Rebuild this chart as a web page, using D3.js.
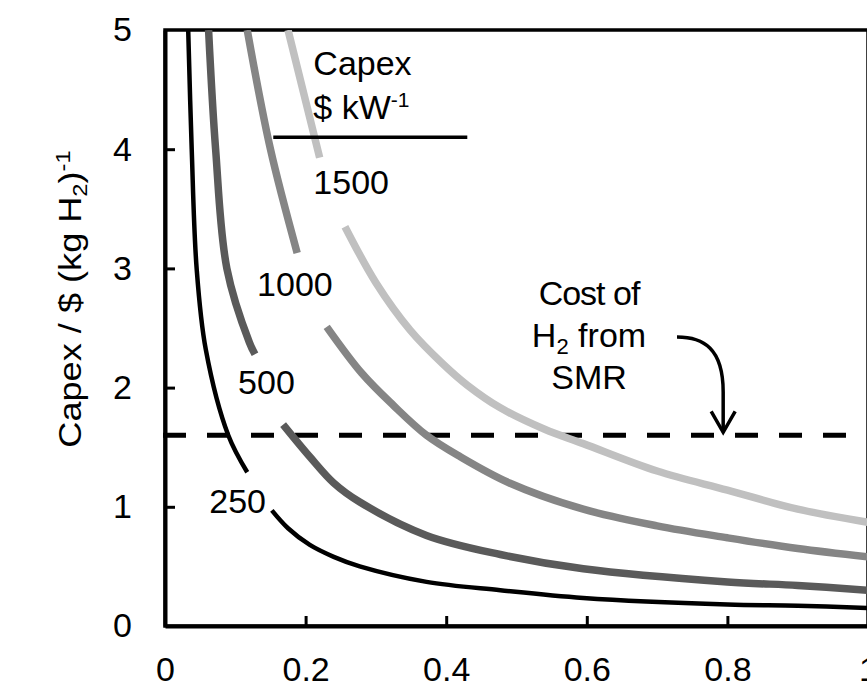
<!DOCTYPE html>
<html>
<head>
<meta charset="utf-8">
<script src="https://cdn.jsdelivr.net/npm/d3@7"></script>
<style>
  body { margin: 0; background: #fff; }
  text { font-family: "Liberation Sans", Arial, sans-serif; fill: #000; }
</style>
</head>
<body>
<div id="chart"></div>
<script>
  // capacity factor (x) vs capex per kg H2 (y), one series per electrolyser capex
  // null splits the line where the label sits
  var cf250   = [0.033, 0.038, 0.045, 0.058, 0.09, 0.117, null, 0.152, 0.175, 0.206, 0.24, 0.277, 0.372, 0.477, 0.595, 0.8, 0.9, 1.0];
  var cost250 = [5, 4, 3, 2.32, 1.6, 1.29, null, 0.97, 0.82, 0.68, 0.58, 0.50, 0.37, 0.30, 0.235, 0.18, 0.17, 0.15];

  var cf500   = [0.062, 0.072, 0.088, 0.12, 0.128, null, 0.168, 0.206, 0.24, 0.277, 0.372, 0.477, 0.595, 0.8, 0.9, 1.0];
  var cost500 = [5, 4, 3, 2.38, 2.28, null, 1.69, 1.42, 1.2, 1.04, 0.76, 0.60, 0.48, 0.37, 0.34, 0.30];

  var cf1000   = [0.117, 0.15, 0.188, null, 0.23, 0.28, 0.325, 0.372, 0.42, 0.49, 0.595, 0.7, 0.8, 0.9, 1.0];
  var cost1000 = [5, 4, 3.13, null, 2.51, 2.12, 1.85, 1.6, 1.42, 1.2, 0.98, 0.84, 0.74, 0.65, 0.58];

  var cf1500   = [0.175, 0.22, null, 0.256, 0.3, 0.349, 0.395, 0.43, 0.477, 0.54, 0.595, 0.7, 0.8, 0.9, 1.0];
  var cost1500 = [5, 3.93, null, 3.35, 2.88, 2.48, 2.2, 2.02, 1.83, 1.65, 1.53, 1.30, 1.14, 0.98, 0.87];

  var capexLevels = ['250', '500', '1000', '1500'];
  var seriesColors = ['#000000', '#5a5a5a', '#858585', '#c0c0c0'];
  var seriesWidths = [4.5, 7.5, 7.5, 7.5];
  // where each capex label goes (data units)
  var labelCf   = [0.063, 0.104, 0.131, 0.211];
  var labelCost = [0.95, 1.95, 2.77, 3.62];

  var smrCost = 1.6;
  var xTicks = [0, 0.2, 0.4, 0.6, 0.8, 1];
  var yTicks = [0, 1, 2, 3, 4, 5];

  var w = 867, h = 700;
  var x = d3.scaleLinear().domain([0, 1]).range([165, 868]);
  var y = d3.scaleLinear().domain([0, 5]).range([626, 30]);

  var svg = d3.select('#chart').append('svg')
    .attr('width', w)
    .attr('height', h);

  ////////////////////////
  // Frame + axes
  ////////////////////////
  svg.append('rect')
    .attr('x', x(0)).attr('y', y(5))
    .attr('width', x(1) - x(0)).attr('height', y(0) - y(5))
    .attr('fill', 'none')
    .attr('stroke', '#000')
    .attr('stroke-width', 3.5);

  var yAxis = svg.append('g')
    .attr('transform', 'translate(' + x(0) + ',0)')
    .call(d3.axisLeft(y).tickValues(yTicks).tickFormat(d3.format('d'))
      .tickSizeInner(-10).tickSizeOuter(0).tickPadding(33));

  var xAxis = svg.append('g')
    .attr('transform', 'translate(0,' + y(0) + ')')
    .call(d3.axisBottom(x).tickValues(xTicks).tickFormat(function(d) { return d === 0 || d === 1 ? d : d3.format('.1f')(d); })
      .tickSizeInner(-10).tickSizeOuter(0).tickPadding(31));

  [xAxis, yAxis].forEach(function(g) {
    g.select('.domain').attr('stroke', '#000').attr('stroke-width', 4);
    g.selectAll('.tick line').attr('stroke', '#000').attr('stroke-width', 3);
    g.selectAll('.tick text')
      .style('font-family', '"Liberation Sans", Arial, sans-serif')
      .style('font-size', '34px')
      .attr('fill', '#000');
  });
  xAxis.selectAll('.tick').filter(function(d) { return d === 0 || d === 1; }).select('line').remove();
  yAxis.selectAll('.tick').filter(function(d) { return d === 0 || d === 5; }).select('line').remove();

  // y title (the original is a little wider than plain Arial)
  var yTitle = svg.append('text')
    .attr('transform', 'translate(81,' + 299 + ') rotate(-90) scale(1.13,1)')
    .attr('text-anchor', 'middle')
    .style('font-size', '32px');
  yTitle.append('tspan').text('Capex / $ (kg H');
  yTitle.append('tspan').text('2').attr('baseline-shift', '-25%').style('font-size', '21px');
  yTitle.append('tspan').text(')');
  yTitle.append('tspan').text('-1').attr('baseline-shift', '55%').style('font-size', '21px');

  ////////////////////////
  // SMR reference line
  ////////////////////////
  svg.append('line')
    .attr('x1', x(0) - 2).attr('x2', x(1))
    .attr('y1', y(smrCost)).attr('y2', y(smrCost))
    .attr('stroke', '#000')
    .attr('stroke-width', 5)
    .attr('stroke-dasharray', '23,21');

  ////////////////////////
  // Capex curves
  ////////////////////////
  var cfs = [cf250, cf500, cf1000, cf1500];
  var costs = [cost250, cost500, cost1000, cost1500];

  var line = d3.line()
    .defined(function(d) { return d[0] !== null && d[1] !== null; })
    .x(function(d) { return x(d[0]); })
    .y(function(d) { return y(d[1]); })
    .curve(d3.curveCatmullRom.alpha(0.5));

  svg.append('clipPath').attr('id', 'plot-clip')
    .append('rect')
    .attr('x', x(0)).attr('y', y(5))
    .attr('width', x(1) - x(0)).attr('height', y(0) - y(5));

  var curveGroup = svg.append('g')
    .attr('class', 'curve-group')
    .attr('clip-path', 'url(#plot-clip)');

  curveGroup.selectAll('path')
    .data(capexLevels)
    .enter().append('path')
    .attr('d', function(d, i) { return line(d3.zip(cfs[i], costs[i])); })
    .attr('fill', 'none')
    .attr('stroke', function(d, i) { return seriesColors[i]; })
    .attr('stroke-width', function(d, i) { return seriesWidths[i]; });

  svg.selectAll('.capex-label')
    .data(capexLevels)
    .enter().append('text')
    .attr('class', 'capex-label')
    .attr('x', function(d, i) { return x(labelCf[i]); })
    .attr('y', function(d, i) { return y(labelCost[i]); })
    .style('font-size', '34px')
    .text(function(d) { return d; });

  ////////////////////////
  // Legend header
  ////////////////////////
  svg.append('text')
    .attr('x', x(0.211)).attr('y', 75)
    .style('font-size', '34px')
    .text('Capex');
  var unit = svg.append('text')
    .attr('x', x(0.211)).attr('y', 119)
    .style('font-size', '34px');
  unit.append('tspan').text('$ kW');
  unit.append('tspan').text('-1').attr('baseline-shift', '55%').style('font-size', '21px');

  svg.append('line')
    .attr('x1', x(0.154)).attr('x2', x(0.43))
    .attr('y1', y(4.1)).attr('y2', y(4.1))
    .attr('stroke', '#000')
    .attr('stroke-width', 3.5);

  ////////////////////////
  // SMR annotation
  ////////////////////////
  var note = svg.append('g').attr('text-anchor', 'middle').style('font-size', '34px');
  note.append('text').attr('x', 589).attr('y', 305).style('letter-spacing', '-1px').text('Cost of');
  var h2 = note.append('text').attr('x', 589).attr('y', 347);
  h2.append('tspan').text('H');
  h2.append('tspan').text('2').attr('baseline-shift', '-30%').style('font-size', '22px');
  h2.append('tspan').text(' from');
  note.append('text').attr('x', 589).attr('y', 389).text('SMR');

  var ax = x(0.794), ay = y(smrCost) - 3;
  svg.append('path')
    .attr('d', 'M677,337 C703,337 ' + ax + ',348 ' + ax + ',392 L' + ax + ',' + ay)
    .attr('fill', 'none')
    .attr('stroke', '#000')
    .attr('stroke-width', 3.5);
  svg.append('path')
    .attr('d', 'M' + (ax - 12) + ',' + (ay - 21) + ' L' + ax + ',' + ay + ' L' + (ax + 12) + ',' + (ay - 21))
    .attr('fill', 'none')
    .attr('stroke', '#000')
    .attr('stroke-width', 3.5);
</script>
</body>
</html>
